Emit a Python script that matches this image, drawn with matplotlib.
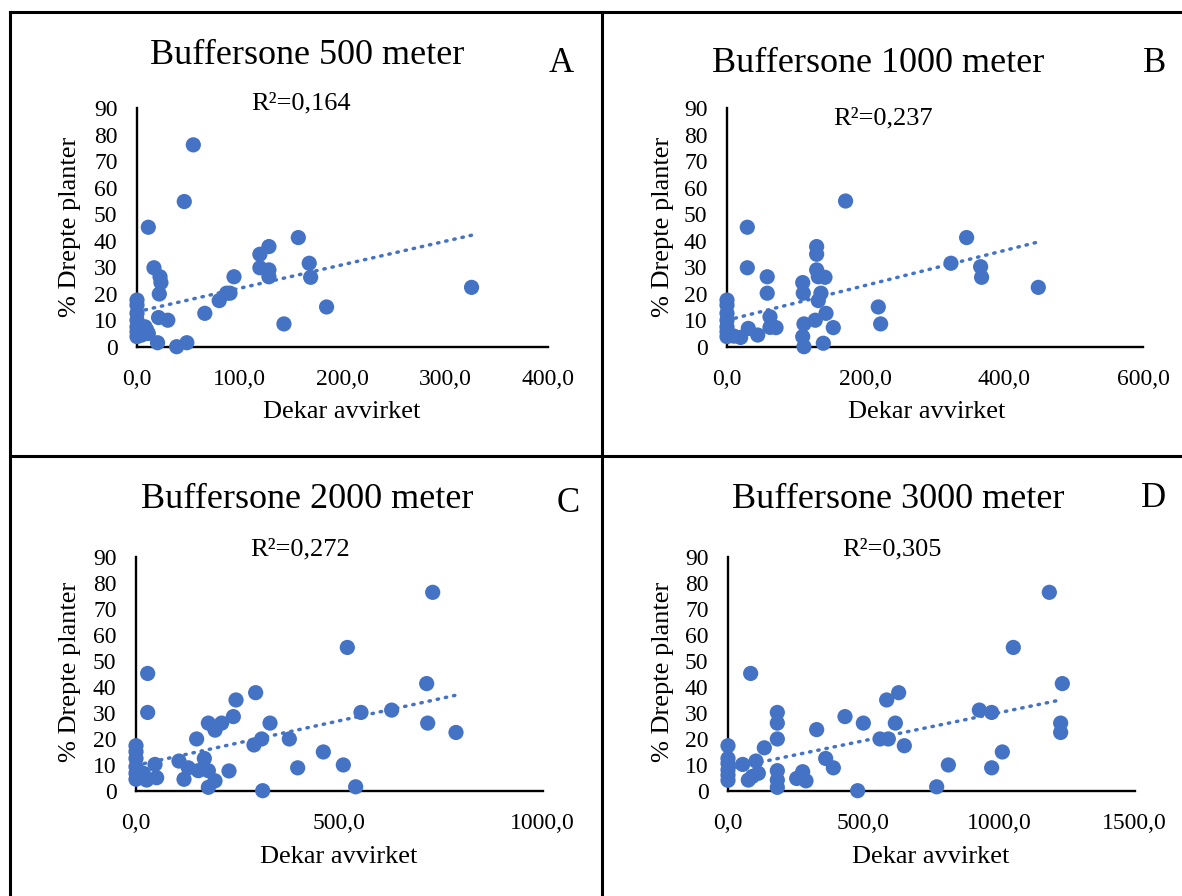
import matplotlib
matplotlib.use("Agg")
import matplotlib.pyplot as plt
from matplotlib.lines import Line2D
import numpy as np

plt.rcParams['font.family'] = ['Liberation Serif', 'DejaVu Serif']

# figure size in pixels
W, H = 1182, 896
BLUE = "#4472C4"

titles = ["Buffersone 500 meter", "Buffersone 1000 meter",
          "Buffersone 2000 meter", "Buffersone 3000 meter"]
letters = ["A", "B", "C", "D"]
r2_labels = ["R\u00b2=0,164", "R\u00b2=0,237", "R\u00b2=0,272", "R\u00b2=0,305"]
x_max = [400, 600, 1000, 1500]
x_step = [100, 200, 500, 500]

# Excel trendline (intercept, slope)
trend_b0 = [13.2, 10.0, 9.75, 8.4]
trend_b1 = [0.0887, 0.0658, 0.0343, 0.0216]

# Dekar avvirket / % drepte planter
a_x = [0, 0, 0, 0, 0, 0, 0, 7.8, 9.4, 4.5, 11, 21, 30, 20, 38.6, 48.5, 66,
       11, 16.5, 22.4, 23.3, 21.7, 46, 54.8, 80, 87.2, 90.5, 94.4,
       119.6, 119.6, 128.4, 128.4, 128.4, 143, 157, 167.6, 169, 184.5, 325.6]
a_y = [17.6, 15.7, 12.6, 10, 7.5, 5.7, 3.8, 7.5, 6.3, 4.4, 5, 11, 10, 1.5, 0, 1.5, 12.6,
       45.1, 29.8, 26.4, 24.2, 19.9, 54.8, 76.2, 17.4, 20.2, 20.2, 26.4,
       34.9, 29.8, 37.8, 29, 26.4, 8.6, 41.2, 31.5, 26.2, 15, 22.4]

b_x = [0, 0, 0, 0, 0, 0, 0, 10, 19.7, 30.7, 44.3, 29.3, 29.3,
       58, 58, 62, 62, 70.7, 109.2, 110, 111, 109.2, 111, 127.3,
       129.3, 129.3, 129.3, 131.7, 141.3, 135.5, 131.7, 142.8, 153.3, 138.9,
       171, 218.2, 221.6, 323, 345.6, 365.8, 367.2, 449]
b_y = [17.6, 15.7, 12.6, 10, 7.5, 5.7, 3.8, 4, 3.5, 6.9, 4.4, 45.1, 29.8,
       26.4, 20.2, 11.3, 7.3, 7.2, 24.2, 20.2, 8.6, 3.8, 0, 10,
       37.8, 34.9, 29, 26.4, 26.2, 20.2, 17.4, 12.6, 7.2, 1.3,
       55, 15, 8.6, 31.5, 41.2, 30.2, 26.2, 22.4]

c_x = [0, 0, 0, 0, 0, 0, 18, 26.2, 46.7, 50.8, 28.7, 28.7,
       105.7, 118, 128.7, 149.1, 153.3, 168, 177.9, 177.9, 177.9, 194.3, 194.3, 210.6, 228.7,
       239.3, 245.9, 290.1, 294.2, 309, 311.5, 329.5,
       377, 397.5, 460.6, 509.8, 519.6, 540.1, 553.2, 628.6, 714.7, 717.2, 729.5, 786.8]
c_y = [17.3, 15, 12.4, 9.2, 6.7, 4.4, 6.7, 4.1, 10.1, 5, 45.1, 30.1,
       11.4, 4.4, 8.8, 19.9, 7.7, 12.4, 7.7, 1.3, 26, 23.3, 3.8, 26, 7.6,
       28.5, 34.9, 17.6, 37.7, 19.9, 0, 26,
       19.9, 8.8, 14.9, 9.9, 55.1, 1.5, 30.1, 31, 41.2, 26, 76.3, 22.4]

d_x = [0, 0, 0, 0, 0, 0, 54.1, 75, 83.6, 103.3, 111.9, 134, 90,
       182, 182, 182, 182, 182, 182, 253.4, 275.5, 287.8, 270,
       327.2, 360.4, 388.7, 431.7, 478.4, 499.4,
       560.9, 585.5, 591.6, 617.5, 629.7, 650.6,
       770, 813.1, 927.5, 972.9, 972.9, 1012.3, 1052.8, 1185.7, 1227.5, 1227.5, 1233.7]
d_y = [17.3, 12.4, 10.5, 8, 6, 4, 10.1, 4.1, 45.1, 11.4, 6.7, 16.5, 5.5,
       30.1, 26, 19.9, 7.7, 4.1, 1.3, 4.7, 7.3, 3.8, 5.5,
       23.5, 12.4, 8.8, 28.5, 0, 26,
       19.9, 34.9, 19.9, 26, 37.7, 17.3,
       1.5, 9.9, 31, 30.1, 8.8, 14.9, 55.1, 76.3, 26, 22.4, 41.2]

xs = [a_x, b_x, c_x, d_x]
ys = [a_y, b_y, c_y, d_y]

# plot area boxes in pixels: left, top, right, bottom (axis origin at left/bottom)
boxes = [(137, 108.3, 548, 346.7), (727, 108.3, 1143, 346.7),
         (136, 556.7, 542.7, 790.7), (728, 556.7, 1134.5, 790.7)]
title_pos = [(307, 56), (878, 63), (307, 499), (898, 499)]
letter_pos = [(561, 64), (1155, 63), (568, 504), (1153, 498)]
r2_pos = [(301, 103), (883, 118), (300, 549), (892, 549)]
ylab_pos = [(70, 227), (663, 227), (70, 672), (663, 672)]
xlab_pos = [(342, 412), (927, 412), (339, 857), (931, 857)]


def fx(px):
    return px / W


def fy(py):
    return 1 - py / H


fig = plt.figure(figsize=(W / 100, H / 100), dpi=100)

for i in range(4):
    l, t, r, b = boxes[i]
    ax = fig.add_axes([fx(l), fy(b), (r - l) / W, (b - t) / H])
    x = np.array(xs[i])
    y = np.array(ys[i])
    ax.scatter(x, y, s=120, color=BLUE, edgecolors="none", zorder=3, clip_on=False)

    # linear trendline over the data range
    xt = np.array([x.min(), x.max()])
    ax.plot(xt, trend_b0[i] + trend_b1[i] * xt, color=BLUE, lw=2.5,
            linestyle=(0, (0.4, 2.0)), dash_capstyle="round", zorder=2)

    ax.set_xlim(0, x_max[i])
    ax.set_ylim(0, 90)
    ax.set_yticks(np.arange(0, 91, 10))
    xt_vals = np.arange(0, x_max[i] + 1, x_step[i])
    ax.set_xticks(xt_vals)
    ax.set_xticklabels([f"{v:.1f}".replace(".", ",") for v in xt_vals])
    ax.tick_params(length=0, labelsize=17)
    ax.tick_params(axis="y", pad=14)
    ax.tick_params(axis="x", pad=16)
    for s in ["top", "right"]:
        ax.spines[s].set_visible(False)
    for s in ["left", "bottom"]:
        ax.spines[s].set_linewidth(1.7)
        ax.spines[s].set_color("black")
    ax.patch.set_alpha(0)

    fig.text(fx(title_pos[i][0]), fy(title_pos[i][1]), titles[i], fontsize=26,
             ha="center", va="center")
    fig.text(fx(letter_pos[i][0]), fy(letter_pos[i][1]), letters[i], fontsize=25,
             ha="center", va="center")
    fig.text(fx(r2_pos[i][0]), fy(r2_pos[i][1]), r2_labels[i], fontsize=19,
             ha="center", va="center")
    fig.text(fx(ylab_pos[i][0]), fy(ylab_pos[i][1]), "% Drepte planter", fontsize=19,
             ha="center", va="center", rotation=90)
    fig.text(fx(xlab_pos[i][0]), fy(xlab_pos[i][1]), "Dekar avvirket", fontsize=19,
             ha="center", va="center")

# panel frame
frame = [((10, 1182), (12, 12)), ((10, 10), (12, 896)),
         ((602, 602), (12, 896)), ((10, 1182), (456, 456))]
for (x0, x1), (y0, y1) in frame:
    fig.add_artist(Line2D([fx(x0), fx(x1)], [fy(y0), fy(y1)], color="black", lw=2.2))

fig.savefig("out.png", dpi=100, facecolor="white")
